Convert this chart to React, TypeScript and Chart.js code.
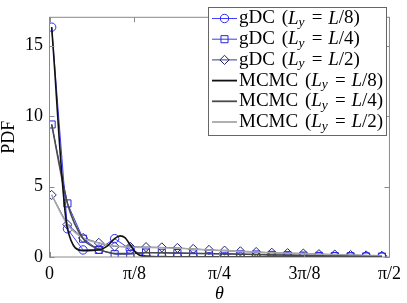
import React, { useEffect, useRef } from 'react';
import { Chart, registerables } from 'chart.js';
Chart.register(...registerables);

// angle grid (rad) of the gDC histogram points
const theta = [0.01, 0.083, 0.155, 0.228, 0.301, 0.373, 0.446, 0.519, 0.591, 0.664, 0.737, 0.809, 0.882, 0.955, 1.027, 1.1, 1.173, 1.245, 1.318, 1.391, 1.463, 1.536];
const gdcL8 = [16.3, 2.0, 0.5, 0.55, 1.3, 0.55, 0.06, 0.03, 0.03, 0.02, 0.02, 0.02, 0.02, 0.02, 0.02, 0.02, 0.02, 0.02, 0.02, 0.02, 0.02, 0.02];
const gdcL4 = [9.4, 3.8, 1.3, 0.5, 0.2, 0.2, 0.32, 0.3, 0.28, 0.26, 0.24, 0.22, 0.2, 0.18, 0.15, 0.13, 0.1, 0.08, 0.07, 0.05, 0.04, 0.03];
const gdcL2 = [4.4, 2.3, 1.35, 1.0, 0.75, 0.72, 0.7, 0.68, 0.64, 0.57, 0.5, 0.45, 0.4, 0.35, 0.3, 0.27, 0.24, 0.2, 0.17, 0.14, 0.11, 0.08];

// MCMC curves (rad, value)
const mcmcTheta = [0.01, 0.083, 0.155, 0.228, 0.265, 0.301, 0.326, 0.35, 0.373, 0.4, 0.446, 0.519, 0.591, 0.664, 0.737, 0.809, 0.882, 0.955, 1.027, 1.1, 1.173, 1.245, 1.318, 1.391, 1.463, 1.536];
const mcmcL8 = [16.3, 2.0, 0.45, 0.5, 0.75, 1.3, 1.5, 1.35, 0.85, 0.3, 0.03, 0.02, 0.02, 0.02, 0.02, 0.02, 0.02, 0.02, 0.02, 0.02, 0.02, 0.02, 0.02, 0.02, 0.02, 0.02];
const mcmcL4 = [9.4, 3.8, 1.3, 0.55, 0.35, 0.25, 0.24, 0.24, 0.25, 0.27, 0.3, 0.3, 0.28, 0.26, 0.24, 0.22, 0.2, 0.18, 0.15, 0.13, 0.1, 0.08, 0.07, 0.05, 0.04, 0.03];
const mcmcL2 = [4.4, 2.3, 1.35, 1.0, 0.85, 0.78, 0.74, 0.72, 0.7, 0.69, 0.68, 0.66, 0.62, 0.56, 0.5, 0.45, 0.4, 0.35, 0.3, 0.27, 0.24, 0.2, 0.17, 0.14, 0.11, 0.08];

const xTickValues = [0, Math.PI / 8, Math.PI / 4, (3 * Math.PI) / 8, Math.PI / 2];
const xTickLabels = ['0', 'π/8', 'π/4', '3π/8', 'π/2'];
const yTickValues = [0, 5, 10, 15];

const legendMethods = ['gDC', 'gDC', 'gDC', 'MCMC', 'MCMC', 'MCMC'];
const legendFracs = ['8', '4', '2', '8', '4', '2'];

const SERIF = '"Liberation Serif", "Times New Roman", serif';

const gdcColors = ['#2a2aff', '#2626d9', '#22227a'];
const mcmcColors = ['#111111', '#4a4a4a', '#a8a8a8'];
const gdcStyles = ['circle', 'rect', 'rectRot'];
const gdcRadius = [4.2, 5, 4.6];

function pts(xs: number[], ys: number[]) {
  return xs.map((x, i) => ({ x, y: ys[i] }));
}

function marker(ctx: CanvasRenderingContext2D, style: string, r: number, x: number, y: number) {
  ctx.beginPath();
  if (style === 'circle') {
    ctx.arc(x, y, r, 0, Math.PI * 2);
  } else if (style === 'rect') {
    const s = r * Math.SQRT1_2;
    ctx.rect(x - s, y - s, 2 * s, 2 * s);
  } else {
    ctx.moveTo(x, y - r); ctx.lineTo(x + r, y); ctx.lineTo(x, y + r); ctx.lineTo(x - r, y); ctx.closePath();
  }
  ctx.stroke();
}

const framePlugin = {
  id: 'matlabFrame',
  afterDraw(chart: any) {
    const { ctx, chartArea: a, scales } = chart;
    ctx.save();
    ctx.strokeStyle = '#8a8a8a';
    ctx.lineWidth = 1;
    ctx.strokeRect(a.left, a.top, a.right - a.left, a.bottom - a.top);
    const tl = 5;
    ctx.beginPath();
    yTickValues.forEach((v) => {
      const py = Math.round(scales.y.getPixelForValue(v)) + 0.5;
      ctx.moveTo(a.left, py); ctx.lineTo(a.left + tl, py);
      ctx.moveTo(a.right, py); ctx.lineTo(a.right - tl, py);
    });
    xTickValues.forEach((v) => {
      const px = Math.round(scales.x.getPixelForValue(v)) + 0.5;
      ctx.moveTo(px, a.bottom); ctx.lineTo(px, a.bottom - tl);
      ctx.moveTo(px, a.top); ctx.lineTo(px, a.top + tl);
    });
    ctx.stroke();

    // legend
    const lx = 208.5, ly = 7.5, lw = 178, lh = 128;
    ctx.fillStyle = '#ffffff';
    ctx.fillRect(lx, ly, lw, lh);
    ctx.strokeStyle = '#666666';
    ctx.strokeRect(lx, ly, lw, lh);
    for (let i = 0; i < 6; i++) {
      const cy = 18.5 + i * 20.7;
      const isG = i < 3;
      const col = isG ? gdcColors[i] : mcmcColors[i - 3];
      ctx.strokeStyle = col;
      ctx.lineWidth = isG ? 0.9 : 1.8;
      ctx.beginPath();
      ctx.moveTo(212, cy); ctx.lineTo(237, cy);
      ctx.stroke();
      if (isG) {
        ctx.lineWidth = 1;
        marker(ctx, gdcStyles[i], gdcRadius[i], 224.5, cy);
      }
      ctx.fillStyle = '#000';
      ctx.textBaseline = 'middle';
      ctx.textAlign = 'left';
      let x = 239;
      const seg = (t: string, font: string, dy = 0) => {
        ctx.font = font;
        ctx.fillText(t, x, cy + dy);
        x += ctx.measureText(t).width;
      };
      const F = `19px ${SERIF}`;
      const FI = `italic 19px ${SERIF}`;
      seg(legendMethods[i], F);
      x += 2;
      seg(' (', F);
      seg('L', FI);
      seg('y', `italic 13.5px ${SERIF}`, 4);
      x += 2.5;
      seg(' = ', F);
      x += 1;
      seg('L', FI);
      seg('/' + legendFracs[i] + ')', F);
    }
    ctx.restore();
  },
};

export default function App() {
  const ref = useRef<HTMLCanvasElement>(null);
  useEffect(() => {
    document.body.style.margin = '0';
    const datasets: any[] = [];
    [gdcL8, gdcL4, gdcL2].forEach((ys, i) => {
      datasets.push({
        data: pts(theta, ys),
        borderColor: gdcColors[i],
        borderWidth: 0.9,
        pointStyle: gdcStyles[i],
        pointRadius: gdcRadius[i],
        pointBorderColor: gdcColors[i],
        pointBackgroundColor: 'rgba(0,0,0,0)',
        pointBorderWidth: 1,
        tension: 0,
        order: 2,
      });
    });
    [mcmcL8, mcmcL4, mcmcL2].forEach((ys, i) => {
      datasets.push({
        data: pts(mcmcTheta, ys),
        borderColor: mcmcColors[i],
        borderWidth: 1.6,
        pointRadius: 0,
        cubicInterpolationMode: 'monotone',
        order: 1,
      });
    });
    const chart = new Chart(ref.current!, {
      type: 'line',
      data: { datasets },
      plugins: [framePlugin],
      options: {
        animation: false,
        responsive: false,
        events: [],
        layout: { padding: { top: 1, right: 13, left: 0, bottom: 0 } },
        plugins: { legend: { display: false }, tooltip: { enabled: false } },
        scales: {
          x: {
            type: 'linear',
            min: 0,
            max: Math.PI / 2,
            border: { display: false },
            grid: { display: false, drawTicks: false },
            afterBuildTicks: (s: any) => { s.ticks = xTickValues.map((v) => ({ value: v })); },
            afterFit: (s: any) => { s.height = 46; },
            ticks: {
              padding: 6,
              color: '#000',
              font: { family: SERIF, size: 18 },
              maxRotation: 0,
              callback: (_v: any, i: number) => xTickLabels[i],
            },
            title: { display: true, text: 'θ', color: '#000', padding: 0, font: { family: SERIF, size: 18, style: 'italic', lineHeight: 1 } },
          },
          y: {
            type: 'linear',
            min: 0,
            max: 17,
            border: { display: false },
            grid: { display: false, drawTicks: false },
            afterBuildTicks: (s: any) => { s.ticks = yTickValues.map((v) => ({ value: v })); },
            afterFit: (s: any) => { s.width = 49.5; },
            ticks: { padding: 6.5, color: '#000', font: { family: SERIF, size: 18 } },
            title: { display: true, text: 'PDF', color: '#000', padding: 0, font: { family: SERIF, size: 18, lineHeight: 1 } },
          },
        },
      } as any,
    });
    return () => chart.destroy();
  }, []);
  return (
    <div style={{ width: 407, height: 303 }}>
      <canvas ref={ref} width={407} height={303} />
    </div>
  );
}
